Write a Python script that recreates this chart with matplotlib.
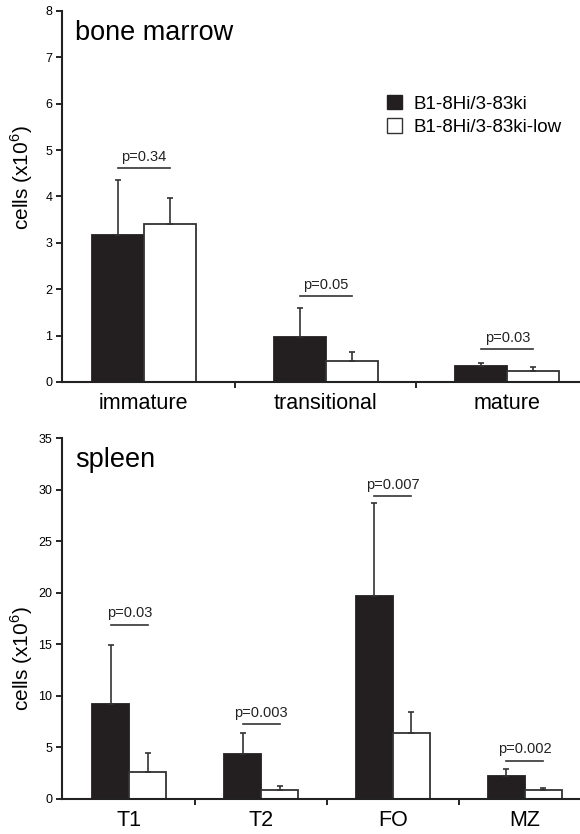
import matplotlib
matplotlib.use("Agg")
import matplotlib.pyplot as plt
from matplotlib.patches import Patch
import numpy as np

plt.rcParams['font.family'] = ['Liberation Sans', 'DejaVu Sans']
plt.rcParams['mathtext.fontset'] = 'custom'
plt.rcParams['mathtext.rm'] = 'Liberation Sans'

# bone marrow
bm_cats = ["immature", "transitional", "mature"]
bm_hi = [3.16, 0.98, 0.34]
bm_hi_err = [1.19, 0.62, 0.06]
bm_low = [3.41, 0.46, 0.24]
bm_low_err = [0.55, 0.19, 0.08]
bm_p = ["p=0.34", "p=0.05", "p=0.03"]
bm_p_y = [4.61, 1.85, 0.71]

# spleen
sp_cats = ["T1", "T2", "FO", "MZ"]
sp_hi = [9.2, 4.36, 19.7, 2.26]
sp_hi_err = [5.7, 2.0, 9.0, 0.68]
sp_low = [2.65, 0.87, 6.43, 0.84]
sp_low_err = [1.85, 0.43, 1.97, 0.26]
sp_p = ["p=0.03", "p=0.003", "p=0.007", "p=0.002"]
sp_p_y = [16.9, 7.27, 29.35, 3.71]

labels = ["B1-8Hi/3-83ki", "B1-8Hi/3-83ki-low"]
dark = "#231f20"


def draw_panel(ax, cats, hi, hi_err, low, low_err, pvals, py, width, xlim, ymax, ystep, title, label_y):
    x = np.arange(len(cats))
    ekw = dict(ecolor="#333333", elinewidth=1.2, capsize=2.5, capthick=1.2)
    ax.bar(x - width / 2, hi, width, color=dark, edgecolor=dark, linewidth=1.3,
           yerr=[np.zeros(len(hi)), hi_err], error_kw=ekw, zorder=2)
    ax.bar(x + width / 2, low, width, color="white", edgecolor="#333333", linewidth=1.3,
           yerr=[np.zeros(len(low)), low_err], error_kw=ekw, zorder=2)
    for i, (p, y) in enumerate(zip(pvals, py)):
        ax.plot([i - width / 2, i + width / 2], [y, y], color="#333333", lw=1.2, clip_on=False)
        ax.text(i, y + ymax * 0.012, p, ha="center", va="bottom", fontsize=10.5, color="#222222")
    ax.set_xlim(*xlim)
    ax.set_ylim(0, ymax)
    ax.set_yticks(np.arange(0, ymax + 0.01, ystep))
    ax.set_xticks(x)
    ax.set_xticklabels(cats, fontsize=15.5)
    ax.set_xticks(np.arange(0.5, len(cats) - 0.5), minor=True)
    ax.tick_params(axis="x", which="major", length=0, pad=8)
    ax.tick_params(axis="x", which="minor", length=4, width=1.2, direction="out")
    ax.tick_params(axis="y", length=4, width=1.2, labelsize=9, direction="out", pad=3)
    for s in ["top", "right"]:
        ax.spines[s].set_visible(False)
    for s in ["left", "bottom"]:
        ax.spines[s].set_linewidth(1.5)
        ax.spines[s].set_color("#222222")
    ax.set_ylabel(r"cells (x10$^{6}$)", fontsize=15)
    ax.yaxis.set_label_coords(-0.052, label_y)
    ax.text(0.025, 0.975, title, transform=ax.transAxes, fontsize=19.5, va="top", ha="left")


fig = plt.figure(figsize=(5.8, 8.34), dpi=100)
ax1 = fig.add_axes([0.107, 0.542, 0.893, 0.445])
ax2 = fig.add_axes([0.107, 0.042, 0.893, 0.4325])

draw_panel(ax1, bm_cats, bm_hi, bm_hi_err, bm_low, bm_low_err, bm_p, bm_p_y,
           0.286, (-0.45, 2.4), 8, 1, "bone marrow", 0.55)
draw_panel(ax2, sp_cats, sp_hi, sp_hi_err, sp_low, sp_low_err, sp_p, sp_p_y,
           0.28, (-0.51, 3.42), 35, 5, "spleen", 0.39)

handles = [Patch(facecolor=dark, edgecolor=dark), Patch(facecolor="white", edgecolor="#333333")]
fig.legend(handles, labels, loc="upper left", bbox_to_anchor=(387 / 580, 1 - 95 / 834),
           frameon=False, fontsize=13.5, handlelength=0.8, handleheight=0.8,
           handletextpad=0.6, labelspacing=0.3, borderpad=0, borderaxespad=0)

fig.savefig("out.png", dpi=100)
